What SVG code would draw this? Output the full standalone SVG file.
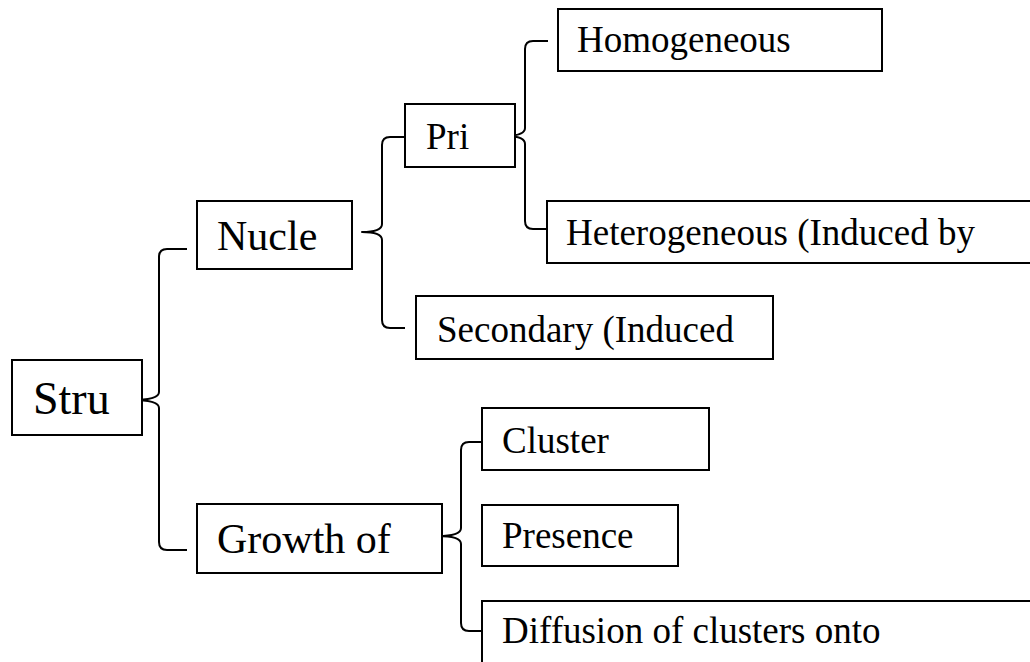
<svg xmlns="http://www.w3.org/2000/svg" width="1030" height="662" viewBox="0 0 1030 662">
<style>
.box{fill:#fff;stroke:#000;stroke-width:2}
.br{fill:none;stroke:#000;stroke-width:2;stroke-linejoin:round}
text{font-family:"Liberation Serif","Times New Roman",serif;fill:#000;font-size:37px}
.big{font-size:42px}
.huge{font-size:46px}
</style>
<rect width="1030" height="662" fill="#fff"/>
<g id="connectors">
<path class="br" d="M187 249 L167 249 Q159 249 159 257 L159 392 Q159 400 132 400 Q159 400 159 408 L159 542 Q159 550 167 550 L187 550"/>
<path class="br" d="M405 137 L390 137 Q382 137 382 145 L382 224 Q382 232 362 232 Q382 232 382 240 L382 320 Q382 328 390 328 L405 328"/>
<path class="br" d="M548 41 L533 41 Q525 41 525 49 L525 128 Q525 136 504 136 Q525 136 525 144 L525 221 Q525 229 533 229 L547 229"/>
<path class="br" d="M482 442 L469 442 Q461 442 461 450 L461 528 Q461 536 438 536 Q461 536 461 544 L461 623 Q461 631 469 631 L482 631"/>
</g>
<g id="node-stru"><rect class="box" x="12" y="360" width="130" height="75"/><text class="huge" x="33" y="414">Stru</text></g>
<g id="node-nucle"><rect class="box" x="197" y="201" width="155" height="68"/><text class="big" x="217" y="250">Nucle</text></g>
<g id="node-growth"><rect class="box" x="197" y="504" width="245" height="69"/><text class="big" x="217" y="553">Growth of</text></g>
<g id="node-pri"><rect class="box" x="405" y="104" width="110" height="63"/><text x="426" y="149">Pri</text></g>
<g id="node-secondary"><rect class="box" x="416" y="296" width="357" height="63"/><text x="437" y="342">Secondary (Induced</text></g>
<g id="node-homogeneous"><rect class="box" x="558" y="9" width="324" height="62"/><text x="577" y="52">Homogeneous</text></g>
<g id="node-heterogeneous"><rect class="box" x="547" y="201" width="490" height="62"/><text x="566" y="245">Heterogeneous (Induced by</text></g>
<g id="node-cluster"><rect class="box" x="482" y="408" width="227" height="62"/><text x="502" y="453">Cluster</text></g>
<g id="node-presence"><rect class="box" x="482" y="505" width="196" height="61"/><text x="502" y="548">Presence</text></g>
<g id="node-diffusion"><rect class="box" x="482" y="601" width="560" height="70"/><text x="502" y="643">Diffusion of clusters onto</text></g>
</svg>
